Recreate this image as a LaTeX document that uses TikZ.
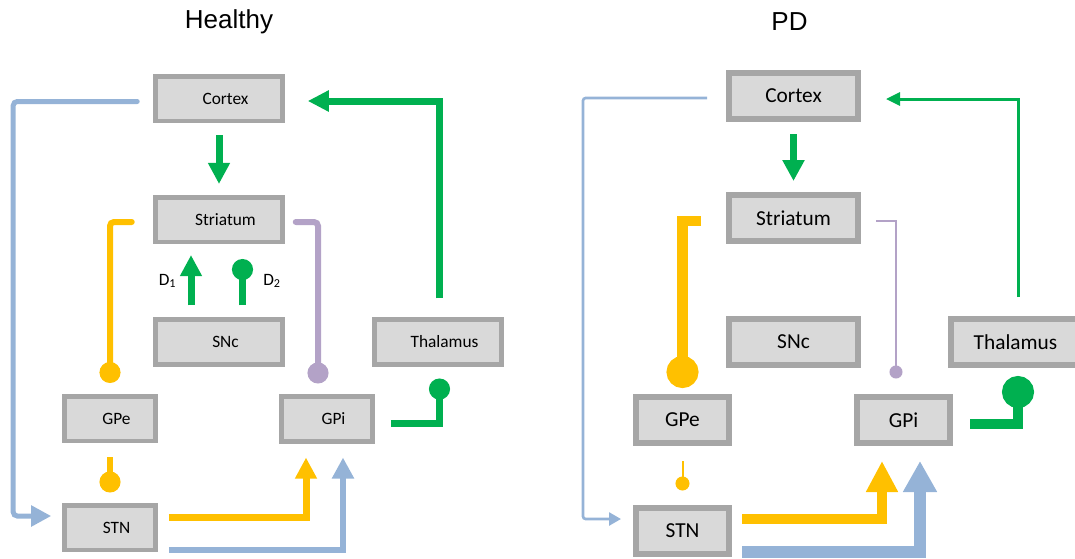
\documentclass[tikz,border=0pt]{standalone}
\usepackage{fontspec}
\setmainfont{Carlito}
\newfontfamily\titlefont{Liberation Sans}
\usetikzlibrary{arrows.meta,calc}

\definecolor{boxfill}{HTML}{D9D9D9}
\definecolor{boxline}{HTML}{A6A6A6}
\definecolor{pathblue}{HTML}{95B3D7}
\definecolor{pathgreen}{HTML}{00B050}
\definecolor{pathyellow}{HTML}{FFC000}
\definecolor{pathpurple}{HTML}{B3A2C7}

\tikzset{
  hbox/.style={draw=boxline,fill=boxfill,line width=3.4pt,inner sep=0pt,
    minimum height=33.4pt,font=\fontsize{13}{15}\selectfont,
    execute at begin node=\hspace*{9.75pt}},
  hwide/.style={hbox,minimum width=95.25pt},
  hnarrow/.style={hbox,minimum width=68.25pt},
  pbox/.style={draw=boxline,fill=boxfill,line width=4.5pt,inner sep=0pt,
    minimum height=34.5pt,font=\fontsize{16}{18}\selectfont},
  pwide/.style={pbox,minimum width=96.75pt},
  pnarrow/.style={pbox,minimum width=69.75pt},
  title/.style={font=\titlefont\fontsize{19.5}{23}\selectfont},
  dlabel/.style={font=\fontsize{13}{15}\selectfont},
}

\begin{document}
\begin{tikzpicture}[x=0.75pt,y=-0.75pt]
  \useasboundingbox (0,0) rectangle (1075,558);

  % healthy
  \node[title] (htitle) at (229,22) {Healthy};
  \node[hwide] (hcx) at (219,98.5) {Cortex};
  \node[hwide] (hstr) at (219,219.5) {Striatum};
  \node[hwide] (hsnc) at (219,342) {SNc};
  \node[hwide] (hthal) at (438,342) {Thalamus};
  \node[hnarrow] (hgpe) at (110,418.5) {GPe};
  \node[hnarrow] (hgpi) at (327,419) {GPi};
  \node[hnarrow] (hstn) at (110,527.5) {STN};
  \node[dlabel] (hdone) at (167.5,281) {D\textsubscript{1}};
  \node[dlabel] (hdtwo) at (272,281) {D\textsubscript{2}};

  \draw[pathblue,line width=3.75pt,line cap=round,rounded corners=3pt,
        -{Triangle[length=15pt,width=15pt]},shorten >=8.25pt]
    ($(hcx.west)+(-16,3)$) -- ++(-124,0) |- ($(hstn.west)+(0,-11.5)$);
  \draw[pathgreen,line width=5.25pt,-{Triangle[length=15.75pt,width=15.5pt]}]
    ($(hcx.south)+(0,12)$) -- ($(hstr.north)+(0,-11)$);
  \draw[pathgreen,line width=5.25pt,-{Triangle[length=15.75pt,width=15pt]},shorten >=17.25pt]
    ($(hthal.north)+(1,-19)$) |- ($(hcx.east)+(0,2.5)$);
  \draw[pathyellow,line width=4.5pt,line cap=round,rounded corners=3pt,
        -{Circle[length=15.75pt]}]
    ($(hstr.west)+(-21.5,2.5)$) -| ($(hgpe.north)+(0,-11)$);
  \draw[pathpurple,line width=4.5pt,line cap=round,rounded corners=3pt,
        -{Circle[length=15.75pt]}]
    ($(hstr.east)+(11,2.5)$) -| ($(hgpi.north)+(-9,-11)$);
  \draw[pathgreen,line width=5.25pt,-{Triangle[length=15.75pt,width=15.5pt]}]
    ($(hsnc.north)+(-28,-12)$) -- ($(hstr.south)+(-28,11)$);
  \draw[pathgreen,line width=5.25pt,-{Circle[length=15.75pt]}]
    ($(hsnc.north)+(23.5,-12)$) -- ($(hstr.south)+(23.5,15)$);
  \draw[pathyellow,line width=4.5pt,-{Circle[length=15.75pt]}]
    ($(hgpe.south)+(0,14)$) -- ($(hstn.north)+(0,-10.5)$);
  \draw[pathgreen,line width=5.25pt,-{Circle[length=15.75pt]}]
    ($(hgpi.east)+(16,4)$) -| ($(hthal.south)+(1.5,12)$);
  \draw[pathyellow,line width=5.25pt,-{Triangle[length=15.75pt,width=15.5pt]}]
    ($(hstn.east)+(11,-10.5)$) -| ($(hgpi.south)+(-21,14)$);
  \draw[pathblue,line width=4.5pt,-{Triangle[length=15.75pt,width=15.75pt]}]
    ($(hstn.east)+(11,22.5)$) -| ($(hgpi.south)+(16,14)$);

  % PD
  \node[title] (ptitle) at (789.5,22) {PD};
  \node[pwide] (pcx) at (793.5,96) {Cortex};
  \node[pwide] (pstr) at (793.5,218) {Striatum};
  \node[pwide] (psnc) at (793.5,342) {SNc};
  \node[pwide] (pthal) at (1015.5,342) {Thalamus};
  \node[pnarrow] (pgpe) at (682.5,420) {GPe};
  \node[pnarrow] (pgpi) at (903.5,420) {GPi};
  \node[pnarrow] (pstn) at (682.5,530.5) {STN};

  \draw[pathblue,line width=2pt,rounded corners=2pt,
        -{Triangle[length=9pt,width=9.75pt]},shorten >=9pt]
    ($(pcx.west)+(-19,2)$) -- ++(-124,0) |- ($(pstn.west)+(0,-11.5)$);
  \draw[pathgreen,line width=5.25pt,-{Triangle[length=15.75pt,width=15.75pt]}]
    ($(pcx.south)+(0,12)$) -- ($(pstr.north)+(0,-11)$);
  \draw[pathgreen,line width=2.25pt,-{Triangle[length=10.5pt,width=9.75pt]},shorten >=18.75pt]
    ($(pthal.north)+(2.5,-19)$) |- ($(pcx.east)+(0,3)$);
  \draw[pathyellow,line width=8pt,-{Circle[length=24pt]}]
    ($(pstr.west)+(-25,3)$) -| ($(pgpe.north)+(0,-6)$);
  \draw[pathpurple,line width=1.2pt,-{Circle[length=9.75pt]}]
    ($(pstr.east)+(15,3)$) -| ($(pgpi.north)+(-7.5,-15.5)$);
  \draw[pathyellow,line width=1.5pt,-{Circle[length=10.5pt]}]
    ($(pgpe.south)+(0,15)$) -- ($(pstn.north)+(0,-14)$);
  \draw[pathgreen,line width=7.5pt,-{Circle[length=24pt]}]
    ($(pgpi.east)+(17,4)$) -| ($(pthal.south)+(2.5,8)$);
  \draw[pathyellow,line width=8pt,-{Triangle[length=23.25pt,width=22.5pt]}]
    ($(pstn.east)+(10,-11.5)$) -| ($(pgpi.south)+(-21.5,15)$);
  \draw[pathblue,line width=9pt,-{Triangle[length=23.25pt,width=24pt]}]
    ($(pstn.east)+(10,21.5)$) -| ($(pgpi.south)+(16.5,15)$);
\end{tikzpicture}
\end{document}
